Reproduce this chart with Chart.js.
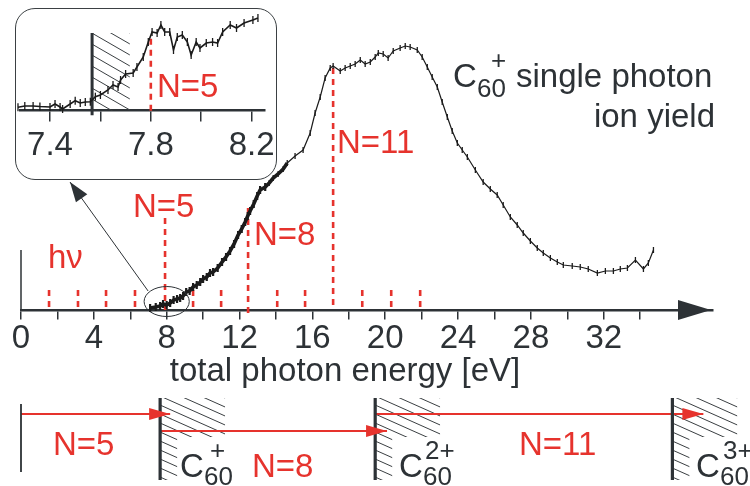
<!DOCTYPE html>
<html>
<head>
<meta charset="utf-8">
<script src="https://cdn.jsdelivr.net/npm/chart.js@4.4.1/dist/chart.umd.min.js"></script>
<style>
  body { margin: 0; background: #fff; }
  #wrap { position: relative; width: 750px; height: 486px; overflow: hidden; }
  #main, #inset { position: absolute; left: 0; top: 0; }
  #box { position: absolute; left: 15px; top: 8px; width: 262px; height: 172px; box-sizing: border-box;
         border: 1.5px solid #3b4043; border-radius: 20px; background: #fff; }
</style>
</head>
<body>
<div id="wrap">
  <canvas id="main" width="750" height="486"></canvas>
  <div id="box"></div>
  <canvas id="inset" width="290" height="190"></canvas>
</div>
<script>
// ---- data ----
const mainTicks = [0, 2, 4, 6, 8, 10, 12, 14, 16, 18, 20, 22, 24, 26, 28, 30, 32, 34];
const mainTickLabels = ['0', '', '4', '', '8', '', '12', '', '16', '', '20', '', '24', '', '28', '', '32', ''];

// C60+ ion yield vs total photon energy (eV, arb. units)
const yieldEnergy = [7.09, 7.4, 7.64, 7.8, 8.0, 8.19, 8.38, 8.57, 8.74, 8.9, 9.07, 9.26, 9.45, 9.65, 9.84,
  10.0, 10.2, 10.38, 10.55, 10.8, 11.04, 11.26, 11.48, 11.7, 11.92, 12.12, 12.31, 12.45, 12.58, 12.78,
  12.97, 13.13, 13.41, 13.63, 13.85, 14.12, 14.4, 14.62, 15.05, 15.49, 15.88, 16.15, 16.43, 16.7, 16.98,
  17.14, 17.53, 17.8, 18.08, 18.35, 18.63, 18.9, 19.18, 19.45, 19.62, 19.89, 20.16, 20.44, 20.82, 21.1,
  21.37, 21.76, 22.03, 22.31, 22.58, 22.86, 23.13, 23.41, 23.68, 23.96, 24.23, 24.51, 24.95, 25.38, 25.77,
  26.15, 26.48, 26.87, 27.25, 27.58, 27.97, 28.35, 28.68, 29.07, 29.45, 29.78, 30.27, 30.71, 31.15, 31.65,
  32.09, 32.53, 32.91, 33.3, 33.74, 34.18, 34.45, 34.73];
const yieldValue = [2, 3, 4, 6, 5, 7, 10, 11, 12, 14, 18, 19, 23, 25, 28,
  31, 33, 37, 38, 42, 48, 53, 59, 66, 75, 81, 88, 94, 99, 106,
  114, 120, 123, 127, 132, 136, 141, 147, 154, 160, 177, 197, 213, 232, 242,
  244, 239, 242, 244, 246, 250, 246, 248, 253, 257, 256, 252, 259, 262, 264,
  263, 260, 253, 243, 233, 223, 208, 193, 179, 167, 160, 153, 140, 128, 121,
  115, 105, 93, 85, 77, 69, 62, 57, 52, 48, 45, 44, 43, 41, 37,
  39, 39, 41, 42, 50, 41, 47, 60];

// multiples of the photon energy (red dashed markers)
const photonLines = [1.54, 3.13, 4.67, 6.26, 7.91, 9.45, 10.99, 12.47, 14.07, 15.6, 17.14, 18.74, 20.33, 21.92];
const photonLineTops = [20, 20, 20, 20, 92, 20, 20, 102, 20, 20, 242, 20, 20, 20];
const photonLineBottoms = [0, 0, 0, 0, 0, 0, 0, -4, 0, 0, 0, 0, 0, 0];

// ionisation thresholds for the lower scheme
const levelEnergy = [7.64, 19.45, 35.77];
const arrowStart = [0, 7.64, 19.45];
const arrowEnd = [8.19, 20.1, 37.47];
const arrowLevel = [-104, -121, -104];

// inset: zoom on the first threshold
const insetTicks = [7.4, 7.6, 7.8, 8.0, 8.2];
const insetTickLabels = ['7.4', '', '7.8', '', '8.2'];
const insetEnergy = [7.273, 7.3, 7.333, 7.36, 7.4, 7.42, 7.44, 7.45, 7.48, 7.5, 7.52, 7.54, 7.56, 7.58, 7.6,
  7.63, 7.65, 7.67, 7.68, 7.7, 7.73, 7.745, 7.77, 7.79, 7.805, 7.825, 7.84, 7.855, 7.875, 7.89,
  7.905, 7.925, 7.945, 7.96, 7.98, 7.995, 8.02, 8.045, 8.065, 8.085, 8.115, 8.14, 8.17, 8.205, 8.225];
const insetValue = [3.4, 4.7, 4.7, 4.2, 3.7, 6.7, 3.7, 1.7, 6.7, 10, 7.7, 8.7, 9, 14, 15.7,
  20.7, 25.7, 23.7, 30.7, 36.7, 37.7, 43.7, 53.7, 68.7, 78.7, 77.7, 85.7, 78.7, 78.7, 60.7,
  73.7, 75.7, 68.7, 55.7, 68.7, 62.7, 67.7, 68.7, 67.7, 78.7, 85.7, 82.7, 87.7, 90.7, 92.7];
const insetThreshold = 7.567;
const insetPhotonLine = 7.8;

// ---- styling ----
const ink = '#2d3236';
const curveInk = '#1b1b1b';
const red = '#e6332d';
const FONT = '"Liberation Sans", Arial, Helvetica, sans-serif';

function txt(ctx, s, x, y, size, color, align) {
  ctx.font = size + 'px ' + FONT;
  ctx.fillStyle = color;
  ctx.textAlign = align || 'left';
  ctx.textBaseline = 'alphabetic';
  ctx.fillText(s, x, y);
}

function chem(ctx, x, base, charge, supDx, subDy) {
  txt(ctx, 'C', x, base, 33, ink);
  const w = 24;
  txt(ctx, '60', x + w, base + subDy, 26, ink);
  txt(ctx, charge, x + w + supDx, base - 18, 26, ink);
}

function hatch(ctx, poly, spacing, angle) {
  ctx.save();
  ctx.beginPath();
  poly.forEach((p, i) => i ? ctx.lineTo(p[0], p[1]) : ctx.moveTo(p[0], p[1]));
  ctx.closePath();
  ctx.clip();
  const xs = poly.map(p => p[0]), ys = poly.map(p => p[1]);
  const x0 = Math.min(...xs), x1 = Math.max(...xs), y0 = Math.min(...ys), y1 = Math.max(...ys);
  const rise = (x1 - x0) * Math.tan(angle * Math.PI / 180);
  ctx.beginPath();
  for (let c = y0 - rise; c < y1 + 1; c += spacing) {
    ctx.moveTo(x0, c);
    ctx.lineTo(x1, c + rise);
  }
  ctx.strokeStyle = '#3a3f42';
  ctx.lineWidth = 1;
  ctx.stroke();
  ctx.restore();
}

function drawHeads(chart) {
  const ctx = chart.ctx;
  chart.data.datasets.forEach((ds, i) => {
    if (!ds.head) return;
    const pts = chart.getDatasetMeta(i).data;
    const a = pts[pts.length - 2], b = pts[pts.length - 1];
    const ang = Math.atan2(b.y - a.y, b.x - a.x);
    const {len, half, color} = ds.head;
    ctx.save();
    ctx.translate(b.x, b.y);
    ctx.rotate(ang);
    ctx.beginPath();
    ctx.moveTo(0, 0);
    ctx.lineTo(-len, -half);
    ctx.lineTo(-len, half);
    ctx.closePath();
    ctx.fillStyle = color;
    ctx.fill();
    ctx.restore();
  });
}

// ---- main chart ----
const dense = c => c.raw && c.raw.x < 13.5;
const mainSets = [];
mainSets.push({
  data: yieldEnergy.map((e, i) => ({x: e, y: yieldValue[i]})),
  borderColor: curveInk,
  borderWidth: 1.2,
  segment: { borderWidth: c => c.p1.parsed.x < 14.7 ? 3.6 : 1.2 },
  pointStyle: 'line', rotation: 90,
  pointRadius: c => dense(c) ? 4 : 3,
  pointBorderColor: curveInk,
  pointBorderWidth: c => dense(c) ? 2.2 : 1.3
});
photonLines.forEach((e, i) => mainSets.push({
  data: [{x: e, y: photonLineTops[i]}, {x: e, y: photonLineBottoms[i]}],
  borderColor: red, borderWidth: 2.6, borderDash: [6, 5], pointRadius: 0
}));
mainSets.push({ data: [{x: 0, y: -94}, {x: 0, y: -162}], borderColor: ink, borderWidth: 1.8, pointRadius: 0 });
levelEnergy.forEach(e => mainSets.push({
  data: [{x: e, y: -88}, {x: e, y: -170}], borderColor: ink, borderWidth: 3.2, pointRadius: 0
}));
arrowStart.forEach((s, i) => mainSets.push({
  data: [{x: s, y: arrowLevel[i]}, {x: arrowEnd[i], y: arrowLevel[i]}],
  borderColor: red, borderWidth: 2, pointRadius: 0,
  head: {len: 21, half: 6, color: red}
}));
// pointer from the circled threshold to the inset
mainSets.push({
  data: [{x: 6.98, y: 19}, {x: 2.69, y: 128}],
  borderColor: ink, borderWidth: 1, pointRadius: 0,
  head: {len: 20, half: 7, color: ink}
});

const mainDecor = {
  id: 'mainDecor',
  beforeDatasetsDraw(chart) {
    const {ctx, scales: {x, y}} = chart;
    levelEnergy.forEach(e => {
      const L = x.getPixelForValue(e), T = y.getPixelForValue(-88);
      const M = y.getPixelForValue(-127), B = y.getPixelForValue(-170);
      hatch(ctx, [[L, T], [L + 65, T], [L + 65, M], [L + 17, M], [L + 17, B], [L, B]], 9, 24);
    });
  },
  afterDatasetsDraw(chart) {
    const {ctx, chartArea, scales: {x, y}} = chart;
    drawHeads(chart);
    // short y axis
    const x0 = x.getPixelForValue(0), y0 = y.getPixelForValue(0);
    ctx.save();
    ctx.strokeStyle = ink;
    ctx.lineWidth = 1.5;
    ctx.beginPath();
    ctx.moveTo(x0, y0);
    ctx.lineTo(x0, y.getPixelForValue(60));
    ctx.stroke();
    // arrow head of the energy axis
    ctx.fillStyle = ink;
    ctx.beginPath();
    ctx.moveTo(chartArea.right - 2, y0);
    ctx.lineTo(chartArea.right - 35, y0 - 10);
    ctx.lineTo(chartArea.right - 35, y0 + 10);
    ctx.closePath();
    ctx.fill();
    // ellipse around the first threshold
    const cx = x.getPixelForValue(8.0), cy = y.getPixelForValue(8.5);
    ctx.lineWidth = 1;
    ctx.beginPath();
    ctx.ellipse(cx, cy, x.getPixelForValue(9.24) - cx, 15, 0, 0, Math.PI * 2);
    ctx.stroke();
    ctx.restore();
  },
  afterDraw(chart) {
    const ctx = chart.ctx;
    txt(ctx, 'hν', 48, 268, 33, red);
    txt(ctx, 'N=5', 133, 217, 33, red);
    txt(ctx, 'N=8', 254, 245, 33, red);
    txt(ctx, 'N=11', 337, 153, 33, red);
    txt(ctx, 'total photon energy [eV]', 345, 381, 33, ink, 'center');
    chem(ctx, 453, 87, '+', 14, 10);
    txt(ctx, 'single photon', 516, 87, 33, ink);
    txt(ctx, 'ion yield', 715, 127, 33, ink, 'right');
    // lower scheme labels
    txt(ctx, 'N=5', 53, 455, 33, red);
    txt(ctx, 'N=8', 252, 477, 33, red);
    txt(ctx, 'N=11', 519, 455, 33, red);
    chem(ctx, 180, 477, '+', 6, 8);
    chem(ctx, 399, 477, '2+', 2, 8);
    chem(ctx, 696, 477, '3+', 3, 8);
  }
};

new Chart(document.getElementById('main'), {
  type: 'line',
  data: { datasets: mainSets },
  options: {
    responsive: false,
    animation: false,
    layout: { padding: {left: 21, right: 37, top: 0, bottom: 0}, autoPadding: false },
    datasets: { line: { clip: false, tension: 0, fill: false } },
    plugins: { legend: {display: false}, tooltip: {enabled: false} },
    scales: {
      x: {
        type: 'linear', min: 0, max: 38, position: {y: 0},
        afterBuildTicks: s => { s.ticks = mainTicks.map(v => ({value: v})); },
        ticks: {
          callback: (v, i) => mainTickLabels[i],
          font: {family: FONT, size: 33}, color: ink, padding: 1,
          maxRotation: 0, autoSkip: false
        },
        grid: { drawOnChartArea: false, tickLength: 8, color: ink, lineWidth: 1.5 },
        border: { display: true, color: ink, width: 2.5 }
      },
      y: { type: 'linear', display: false, min: -176, max: 310 }
    }
  },
  plugins: [mainDecor]
});

// ---- inset chart ----
const insetDecor = {
  id: 'insetDecor',
  beforeDatasetsDraw(chart) {
    const {ctx, scales: {x, y}} = chart;
    const L = x.getPixelForValue(insetThreshold), R = x.getPixelForValue(7.717);
    const T = y.getPixelForValue(77.7), B = y.getPixelForValue(0);
    hatch(ctx, [[L, T], [R, T], [R, B], [L, B]], 11, 30);
  },
  afterDraw(chart) {
    txt(chart.ctx, 'N=5', 157, 97, 33, red);
  }
};

new Chart(document.getElementById('inset'), {
  type: 'line',
  data: {
    datasets: [
      {
        data: insetEnergy.map((e, i) => ({x: e, y: insetValue[i]})),
        borderColor: curveInk, borderWidth: 1.6,
        pointStyle: 'line', rotation: 90, pointRadius: 4,
        pointBorderColor: curveInk, pointBorderWidth: 1.3
      },
      {
        data: [{x: insetPhotonLine, y: 72}, {x: insetPhotonLine, y: 0}],
        borderColor: red, borderWidth: 2.6, borderDash: [6, 5], pointRadius: 0
      },
      {
        data: [{x: insetThreshold, y: 77.7}, {x: insetThreshold, y: -4.5}],
        borderColor: ink, borderWidth: 3, pointRadius: 0
      }
    ]
  },
  options: {
    responsive: false,
    animation: false,
    layout: { padding: {left: 20, right: 25, top: 0, bottom: 0}, autoPadding: false },
    datasets: { line: { clip: false, tension: 0, fill: false } },
    plugins: { legend: {display: false}, tooltip: {enabled: false} },
    scales: {
      x: {
        type: 'linear', min: 7.281, max: 8.253, position: {y: 0},
        afterBuildTicks: s => { s.ticks = insetTicks.map(v => ({value: v})); },
        ticks: {
          callback: (v, i) => insetTickLabels[i],
          font: {family: FONT, size: 33}, color: ink, padding: 5,
          maxRotation: 0, autoSkip: false
        },
        grid: { drawOnChartArea: false, tickLength: 10, color: ink, lineWidth: 1.5 },
        border: { display: true, color: ink, width: 2.5 }
      },
      y: { type: 'linear', display: false, min: -79.3, max: 110.7 }
    }
  },
  plugins: [insetDecor]
});
</script>
</body>
</html>
